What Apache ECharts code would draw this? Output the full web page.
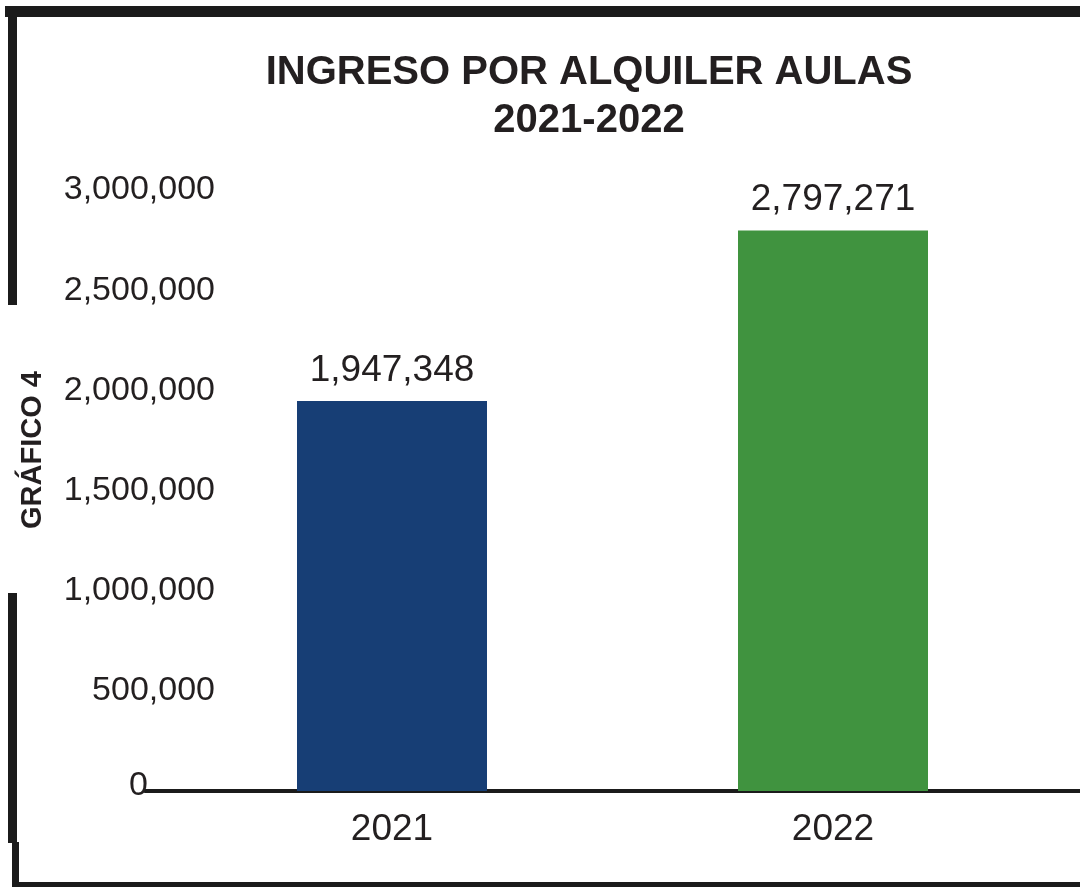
<!DOCTYPE html>
<html>
<head>
<meta charset="utf-8">
<script src="https://cdn.jsdelivr.net/npm/echarts@6/dist/echarts.min.js"></script>
<style>
html,body{margin:0;padding:0;background:#fff;}
#chart{width:1080px;height:887px;}
</style>
</head>
<body>
<div id="chart"></div>
<script>
const categories = ['2021', '2022'];
const values = [1947348, 2797271];
const barColors = ['#173e75', '#40933f'];
const yTicks = [0, 500000, 1000000, 1500000, 2000000, 2500000, 3000000];
const titleLines = ['INGRESO POR ALQUILER AULAS', '2021-2022'];
const sideLabel = 'GRÁFICO 4';

const fmt = v => v.toString().replace(/\B(?=(\d{3})+(?!\d))/g, ',');
const FONT = '"Liberation Sans", Arial, sans-serif';
const INK = '#231f20';

const chart = echarts.init(document.getElementById('chart'), null, {renderer: 'canvas'});

const option = {
  backgroundColor: '#ffffff',
  animation: false,
  title: {
    text: titleLines.join('\n'),
    left: 589,
    top: 49,
    padding: 0,
    textAlign: 'center',
    textStyle: {fontFamily: FONT, fontWeight: 'bold', fontSize: 40, lineHeight: 48, color: INK}
  },
  graphic: [
    {type: 'rect', shape: {x: 5, y: 6, width: 1075, height: 11}, style: {fill: '#1b1b1b'}},
    {type: 'rect', shape: {x: 8, y: 6, width: 9, height: 299}, style: {fill: '#1b1b1b'}},
    {type: 'rect', shape: {x: 8, y: 593, width: 9, height: 250}, style: {fill: '#1b1b1b'}},
    {type: 'rect', shape: {x: 12, y: 842, width: 7, height: 45}, style: {fill: '#1b1b1b'}},
    {type: 'rect', shape: {x: 12, y: 882, width: 1068, height: 5}, style: {fill: '#1b1b1b'}},
    {
      type: 'text', x: 33, y: 450, rotation: Math.PI / 2,
      style: {text: sideLabel, fontFamily: FONT, fontWeight: 'bold', fontSize: 29, fill: INK,
              align: 'center', verticalAlign: 'middle'}
    }
  ],
  grid: [
    {left: 171.5, right: 26.5, top: 190, bottom: 96},
    {left: 145, right: 0, top: 190, bottom: 96}
  ],
  xAxis: [
    {
      type: 'category', gridIndex: 0, data: categories,
      axisLine: {show: false}, axisTick: {show: false},
      axisLabel: {fontFamily: FONT, fontSize: 37, color: INK, margin: 20}
    },
    {
      type: 'category', gridIndex: 1, data: categories,
      axisLine: {show: true, lineStyle: {color: '#1b1b1b', width: 4}},
      axisTick: {show: false}, axisLabel: {show: false}
    }
  ],
  yAxis: [
    {
      type: 'value', gridIndex: 0, min: yTicks[0], max: yTicks[yTicks.length - 1],
      interval: yTicks[1] - yTicks[0],
      axisLine: {show: false}, axisTick: {show: false}, splitLine: {show: false},
      axisLabel: {show: false}
    },
    {
      type: 'value', gridIndex: 1, min: yTicks[0], max: yTicks[yTicks.length - 1],
      interval: yTicks[1] - yTicks[0],
      axisLine: {show: false}, axisTick: {show: false}, splitLine: {show: false},
      axisLabel: {
        margin: -70,
        fontFamily: FONT, fontSize: 34, color: INK,
        formatter: v => v === 0 ? '{z|0}' : fmt(v),
        rich: {z: {fontFamily: FONT, fontSize: 34, color: INK, padding: [0, 67, 10, 0]}}
      }
    }
  ],
  series: [{
    type: 'bar',
    xAxisIndex: 0, yAxisIndex: 0,
    barWidth: 190,
    data: values.map((v, i) => ({value: v, itemStyle: {color: barColors[i]}})),
    label: {
      show: true, position: 'top', distance: 12,
      fontFamily: FONT, fontSize: 37, color: INK,
      formatter: p => fmt(p.value)
    }
  }]
};
chart.setOption(option);
</script>
</body>
</html>
